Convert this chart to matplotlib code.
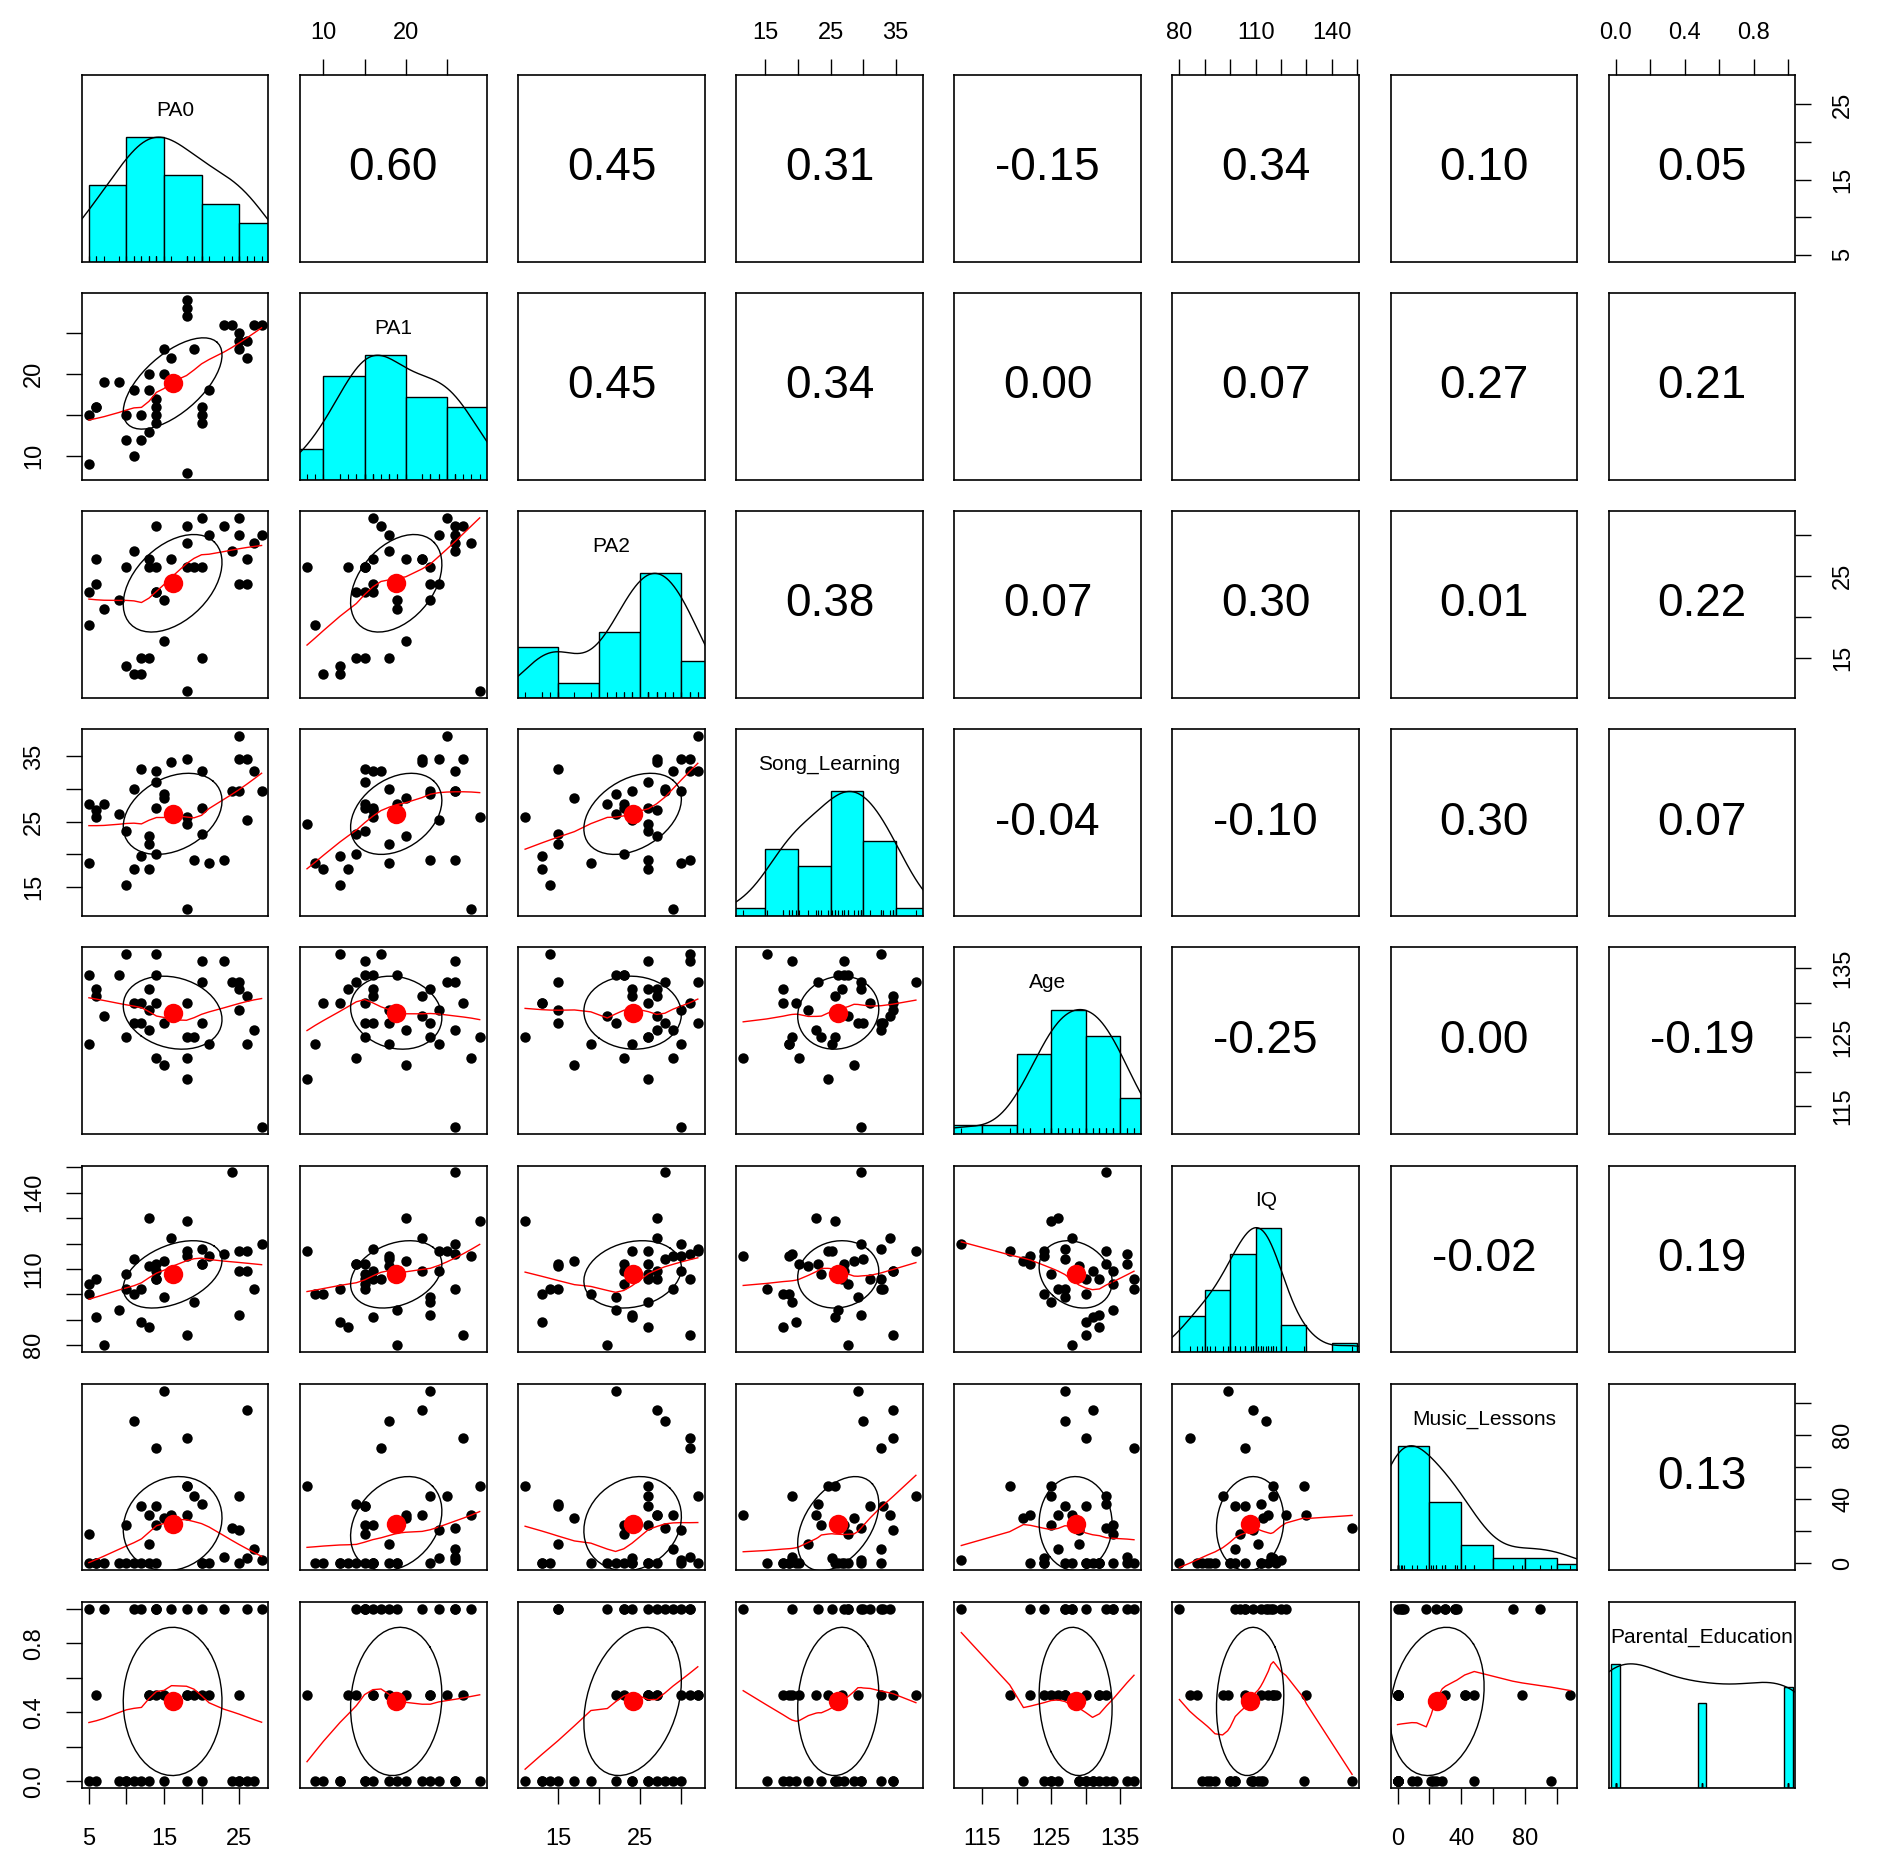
"""Scatterplot matrix in the style of psych::pairs.panels."""
import numpy as np
import matplotlib
matplotlib.use("Agg")
import matplotlib.pyplot as plt
from matplotlib import font_manager

plt.rcParams["font.family"] = ["Liberation Sans", "DejaVu Sans"]
_installed = {f.name for f in font_manager.fontManager.ttflist}
TICK_FONT = "Liberation Sans Narrow" if "Liberation Sans Narrow" in _installed else "Liberation Sans"

names = ["PA0", "PA1", "PA2", "Song_Learning", "Age", "IQ",
         "Music_Lessons", "Parental_Education"]

# one value per child, same order in every list
pa0 = [25, 25, 26, 18, 16, 12, 14, 20, 27, 14, 11, 24, 25, 28, 15, 15, 5, 7, 6, 14,
       20, 6, 9, 18, 18, 26, 10, 20, 13, 13, 14, 12, 5, 19, 21, 23, 11, 13, 10, 18]
pa1 = [25, 24, 22, 27, 22, 15, 17, 16, 26, 15, 18, 26, 23, 26, 23, 20, 15, 19, 16, 16,
       15, 16, 19, 29, 8, 24, 15, 14, 20, 18, 14, 12, 9, 23, 18, 26, 10, 13, 12, 28]
pa2 = [32, 30, 27, 31, 27, 15, 31, 32, 29, 26, 28, 28, 24, 30, 22, 17, 23, 21, 27, 23,
       26, 24, 22, 11, 26, 24, 26, 15, 27, 15, 23, 13, 19, 26, 30, 31, 13, 26, 14, 29]
song = [38.1, 34.6, 34.6, 34.6, 34.1, 33.1, 32.7, 32.7, 32.7, 31.1, 30.0, 29.7, 29.7,
        29.7, 29.2, 28.6, 27.7, 27.7, 26.7, 27.1, 27.1, 25.7, 26.1, 25.7, 24.6, 25.2,
        23.6, 23.1, 22.8, 21.6, 20.1, 19.7, 18.7, 19.1, 18.6, 19.1, 17.7, 17.7, 15.2, 11.6]
age = [133, 129, 131, 130, 128, 127, 137, 127, 126, 130, 127, 133, 132, 112, 127, 121,
       134, 128, 132, 134, 136, 131, 134, 125, 119, 124, 125, 133, 126, 129, 122, 130,
       124, 125, 124, 136, 130, 132, 137, 122]
iq = [117, 109, 109, 84, 122, 102, 106, 118, 102, 106, 114, 148, 92, 120, 99, 113,
      104, 80, 106, 109, 112, 91, 94, 129, 117, 117, 108, 112, 130, 111, 112, 89, 100,
      97, 115, 116, 100, 87, 102, 115]
music = [42, 21, 96, 78, 30, 36, 72, 0, 9, 36, 89, 22, 0, 2, 108, 28, 18, 0, 0, 24,
         0, 0, 0, 48, 48, 3, 24, 37, 30, 12, 0, 0, 0, 42, 0, 4, 0, 0, 0, 30]
parent = [0.5, 0, 0, 0.5, 1, 1, 1, 0.5, 0, 1, 1, 0, 0, 1, 0.5, 0, 1, 1, 0.5, 1,
          0, 0, 0, 0, 0.5, 1, 0, 1, 0.5, 0, 0.5, 0, 0, 0.5, 0.5, 1, 0, 0.5, 0, 1]

# correlations printed in the upper panels, row by row
cor_upper = [
    [0.60, 0.45, 0.31, -0.15, 0.34, 0.10, 0.05],
    [0.45, 0.34, 0.00, 0.07, 0.27, 0.21],
    [0.38, 0.07, 0.30, 0.01, 0.22],
    [-0.04, -0.10, 0.30, 0.07],
    [-0.25, 0.00, -0.19],
    [-0.02, 0.19],
    [0.13],
]

tick_pos = [
    [5, 10, 15, 20, 25],
    [10, 15, 20, 25],
    [15, 20, 25, 30],
    [15, 20, 25, 30, 35],
    [115, 120, 125, 130, 135],
    [80, 90, 100, 110, 120, 130, 140, 150],
    [0, 20, 40, 60, 80, 100],
    [0.0, 0.2, 0.4, 0.6, 0.8, 1.0],
]
tick_text = [
    ["5", "", "15", "", "25"],
    ["10", "", "20", ""],
    ["15", "", "25", ""],
    ["15", "", "25", "", "35"],
    ["115", "", "125", "", "135"],
    ["80", "", "", "110", "", "", "140", ""],
    ["0", "", "40", "", "80", ""],
    ["0.0", "", "0.4", "", "0.8", ""],
]
bin_width = [5, 5, 5, 5, 5, 10, 20, 0.05]

data = [np.asarray(v, float) for v in (pa0, pa1, pa2, song, age, iq, music, parent)]
nvar = len(data)


def padded(x):
    lo, hi = x.min(), x.max()
    d = 0.04 * (hi - lo)
    return lo - d, hi + d


def lowess(x, y, f=2 / 3, iters=3):
    order = np.argsort(x, kind="mergesort")
    x, y = x[order], y[order]
    n = len(x)
    ns = max(min(int(round(f * n)), n), 2)
    rw = np.ones(n)
    fit = np.zeros(n)
    rng = x.max() - x.min()
    for it in range(iters + 1):
        for i in range(n):
            d = np.abs(x - x[i])
            h = np.sort(d)[ns - 1]
            w = np.zeros(n)
            if h > 0:
                u = d / h
                w = np.where(u < 0.999, (1 - np.clip(u, 0, 1) ** 3) ** 3, 0.0)
                w[u <= 0.001] = 1.0
            else:
                w[d == 0] = 1.0
            w = w * rw
            if w.sum() <= 0:
                fit[i] = y[i]
                continue
            w = w / w.sum()
            a = np.sum(w * x)
            c = np.sum(w * (x - a) ** 2)
            if h > 0 and np.sqrt(c) > 0.001 * rng:
                b = (x[i] - a) / c
                w = w * (b * (x - a) + 1.0)
            fit[i] = np.sum(w * y)
        if it == iters:
            break
        res = y - fit
        cmad = 6 * np.median(np.abs(res))
        if cmad < 1e-7 * np.mean(np.abs(y)):
            break
        r = np.abs(res) / cmad
        rw = np.where(r < 1, (1 - r ** 2) ** 2, 0.0)
        rw[r <= 0.001] = 1.0
    return x, fit


def density_curve(x, adjust=1.2):
    q25, q75 = np.percentile(x, [25, 75])
    bw = 1.06 * min(x.std(ddof=1), (q75 - q25) / 1.34) * len(x) ** -0.2 * adjust
    grid = np.linspace(x.min() - 3 * bw, x.max() + 3 * bw, 512)
    dens = np.exp(-0.5 * ((grid[:, None] - x[None, :]) / bw) ** 2).sum(axis=1)
    return grid, dens / dens.max()


def hist_counts(x, step):
    if len(np.unique(x)) <= 3:
        start = np.floor(x.min() / step) * step - step / 2
        stop = np.ceil(x.max() / step) * step + step / 2
    else:
        start = np.floor(x.min() / step) * step
        stop = np.ceil(x.max() / step) * step
    breaks = np.arange(start, stop + step / 2, step)
    # right-closed bins, lowest value included
    idx = np.clip(np.searchsorted(breaks, x, side="left") - 1, 0, len(breaks) - 2)
    counts = np.bincount(idx, minlength=len(breaks) - 1)
    return breaks, counts


def draw_ellipse(ax, x, y):
    xm, ym = x.mean(), y.mean()
    xs, ys = x.std(ddof=1), y.std(ddof=1)
    r = np.corrcoef(x, y)[0, 1]
    theta = np.sign(r) / np.sqrt(2) if abs(r) > 0 else 1 / np.sqrt(2)
    shape = np.diag([np.sqrt(1 + r), np.sqrt(1 - r)]) @ np.array(
        [[theta, theta], [-theta, theta]])
    ang = np.arange(52) * 2 * np.pi / 51
    ell = np.column_stack([np.cos(ang), np.sin(ang)]) @ shape
    ax.plot(ell[:, 0] * xs + xm, ell[:, 1] * ys + ym, color="black", lw=1.0)
    ax.plot([xm], [ym], "o", color="red", ms=14, mec="none", zorder=5)


def set_axis(ax, side, k):
    kw = dict(direction="out", length=11.5, width=1.0, labelsize=17)
    if side in ("bottom", "top"):
        ax.set_xticks(tick_pos[k])
        ax.set_xticklabels(tick_text[k], fontfamily=TICK_FONT)
        ax.tick_params(axis="x", bottom=side == "bottom", labelbottom=side == "bottom",
                       top=side == "top", labeltop=side == "top",
                       pad=17 if side == "bottom" else 11, **kw)
    else:
        ax.set_yticks(tick_pos[k])
        ax.set_yticklabels(tick_text[k], fontfamily=TICK_FONT, rotation=90,
                           va="center")
        ax.tick_params(axis="y", left=side == "left", labelleft=side == "left",
                       right=side == "right", labelright=side == "right",
                       pad=15, **kw)


W, H = 1890, 1872
fig = plt.figure(figsize=(W / 100, H / 100), dpi=100)
x0, y0, step, size = 82, 75, 218.1, 186.5

for i in range(nvar):
    for j in range(nvar):
        ax = fig.add_axes([(x0 + step * j) / W, 1 - (y0 + step * i + size) / H,
                           size / W, size / H])
        ax.set_xticks([])
        ax.set_yticks([])
        for sp in ax.spines.values():
            sp.set_linewidth(1.2)
        ax.set_xlim(*padded(data[j]))
        if i == j:
            x = data[i]
            breaks, counts = hist_counts(x, bin_width[i])
            ax.set_ylim(0, 1.5)
            ax.bar(breaks[:-1], counts / counts.max(), width=np.diff(breaks),
                   align="edge", color="cyan", edgecolor="black", lw=1.0)
            gx, gy = density_curve(x)
            ax.plot(gx, gy, color="black", lw=1.0)
            ax.vlines(x, 0, 0.045, color="black", lw=0.8)
            ax.text(0.5, 0.81, names[i], transform=ax.transAxes, ha="center",
                    va="center", fontsize=15)
        elif i > j:
            x, y = data[j], data[i]
            ax.set_ylim(*padded(y))
            ax.plot(x, y, "o", color="black", ms=7.5, mec="none")
            lx, ly = lowess(x, y)
            ax.plot(lx, ly, color="red", lw=1.0)
            draw_ellipse(ax, x, y)
        else:
            ax.set_ylim(*padded(data[i]))
            ax.text(0.5, 0.5, f"{cor_upper[i][j - i - 1]:.2f}", transform=ax.transAxes,
                    ha="center", va="center", fontsize=33)

        # outer axes alternate sides like R's pairs()
        if i == 0 and j % 2 == 1:
            set_axis(ax, "top", j)
        if i == nvar - 1 and j % 2 == 0:
            set_axis(ax, "bottom", j)
        if j == 0 and i % 2 == 1:
            set_axis(ax, "left", i)
        if j == nvar - 1 and i % 2 == 0:
            set_axis(ax, "right", i)

fig.savefig("out.png", dpi=100)
